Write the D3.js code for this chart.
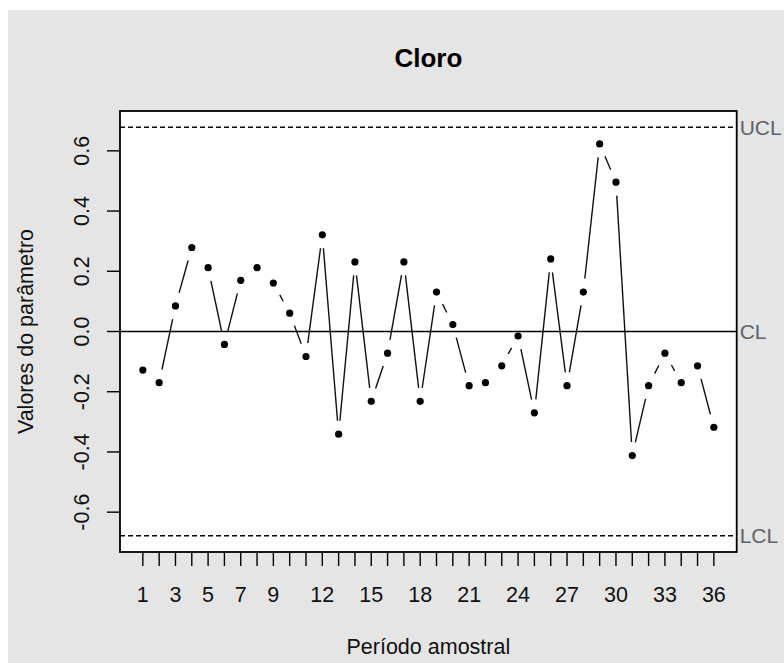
<!DOCTYPE html>
<html>
<head>
<meta charset="utf-8">
<script src="https://cdn.jsdelivr.net/npm/d3@7"></script>
<style>
  body { margin: 0; background: #fff; }
  text { font-family: "Liberation Sans", Arial, sans-serif; }
</style>
</head>
<body>
<div id="chart"></div>
<script>
// valores
var periods = d3.range(1, 37);
var values = [-0.128, -0.170, 0.085, 0.279, 0.212, -0.043, 0.170, 0.212, 0.161, 0.061,
              -0.083, 0.321, -0.341, 0.231, -0.232, -0.072, 0.231, -0.232, 0.131, 0.023,
              -0.180, -0.170, -0.114, -0.015, -0.270, 0.241, -0.180, 0.131, 0.623, 0.496,
              -0.412, -0.180, -0.072, -0.170, -0.114, -0.318];
var limits = [{name: "UCL", v: 0.678, dash: true},
              {name: "CL", v: 0, dash: false},
              {name: "LCL", v: -0.678, dash: true}];
var yTicks = [-0.6, -0.4, -0.2, 0, 0.2, 0.4, 0.6];
var xLabels = [1, 3, 5, 7, 9, 12, 15, 18, 21, 24, 27, 30, 33, 36];

var W = 784, H = 663;
var pLeft = 120, pRight = 736.7, pTop = 111, pBottom = 552;

var svg = d3.select("#chart").append("svg")
    .attr("width", W)
    .attr("height", H);

svg.append("rect")
    .attr("x", 8).attr("y", 10)
    .attr("width", W - 8).attr("height", H - 10)
    .attr("fill", "#e5e5e5");

svg.append("rect")
    .attr("x", pLeft).attr("y", pTop)
    .attr("width", pRight - pLeft).attr("height", pBottom - pTop)
    .attr("fill", "#fff");

var x = d3.scaleLinear().domain([-0.4, 37.4]).range([pLeft, pRight]);
var y = d3.scaleLinear().domain([-0.7323, 0.7323]).range([pBottom, pTop]);

// linhas de controle
limits.forEach(function(l){
    svg.append("line")
        .attr("x1", pLeft).attr("x2", pRight)
        .attr("y1", y(l.v)).attr("y2", y(l.v))
        .attr("stroke", "#000")
        .attr("stroke-width", 1.5)
        .attr("stroke-dasharray", l.dash ? "5,3" : null);
    svg.append("text")
        .attr("x", pRight + 3)
        .attr("y", y(l.v) + 7.5)
        .attr("font-size", 21)
        .attr("fill", "#5f6266")
        .text(l.name);
});

// segmentos com folga em volta dos pontos (type = "b")
var gap = 13.5;
var pts = values.map(function(v, i){ return [x(periods[i]), y(v)]; });
for (var i = 0; i < pts.length - 1; i++) {
    var a = pts[i], b = pts[i + 1];
    var dx = b[0] - a[0], dy = b[1] - a[1];
    var len = Math.sqrt(dx * dx + dy * dy);
    if (len <= 2 * gap) continue;
    var ux = dx / len, uy = dy / len;
    svg.append("line")
        .attr("x1", a[0] + ux * gap).attr("y1", a[1] + uy * gap)
        .attr("x2", b[0] - ux * gap).attr("y2", b[1] - uy * gap)
        .attr("stroke", "#111")
        .attr("stroke-width", 1.4);
}

svg.append("g")
    .selectAll("circle")
    .data(values)
    .enter()
    .append("circle")
      .attr("cx", function(d, i){ return x(periods[i]); })
      .attr("cy", function(d){ return y(d); })
      .attr("r", 3.6)
      .attr("fill", "#000");

// moldura
svg.append("rect")
    .attr("x", pLeft).attr("y", pTop)
    .attr("width", pRight - pLeft).attr("height", pBottom - pTop)
    .attr("fill", "none")
    .attr("stroke", "#000")
    .attr("stroke-width", 1.8);

// eixo x
svg.append("g")
    .selectAll("line")
    .data(periods)
    .enter()
    .append("line")
      .attr("x1", function(d){ return x(d); })
      .attr("x2", function(d){ return x(d); })
      .attr("y1", pBottom)
      .attr("y2", pBottom + 14)
      .attr("stroke", "#000")
      .attr("stroke-width", 1.4);

svg.append("g")
    .selectAll("text")
    .data(xLabels)
    .enter()
    .append("text")
      .attr("x", function(d){ return x(d); })
      .attr("y", 602)
      .attr("text-anchor", "middle")
      .attr("font-size", 21.5)
      .attr("fill", "#111")
      .text(function(d){ return d; });

// eixo y
svg.append("g")
    .selectAll("line")
    .data(yTicks)
    .enter()
    .append("line")
      .attr("x1", pLeft - 13)
      .attr("x2", pLeft)
      .attr("y1", function(d){ return y(d); })
      .attr("y2", function(d){ return y(d); })
      .attr("stroke", "#000")
      .attr("stroke-width", 1.4);

svg.append("g")
    .selectAll("text")
    .data(yTicks)
    .enter()
    .append("text")
      .attr("transform", function(d){ return "translate(89," + y(d) + ") rotate(-90)"; })
      .attr("text-anchor", "middle")
      .attr("font-size", 21.5)
      .attr("fill", "#111")
      .text(function(d){ return d3.format(".1f")(d).replace("−", "-"); });

svg.append("text")
    .attr("x", (pLeft + pRight) / 2)
    .attr("y", 67)
    .attr("text-anchor", "middle")
    .attr("font-size", 26)
    .attr("font-weight", "bold")
    .attr("fill", "#000")
    .text("Cloro");

svg.append("text")
    .attr("x", (pLeft + pRight) / 2)
    .attr("y", 654)
    .attr("text-anchor", "middle")
    .attr("font-size", 21.5)
    .attr("fill", "#111")
    .text("Período amostral");

svg.append("text")
    .attr("transform", "translate(33," + ((pTop + pBottom) / 2) + ") rotate(-90)")
    .attr("text-anchor", "middle")
    .attr("font-size", 21.5)
    .attr("fill", "#111")
    .text("Valores do parâmetro");
</script>
</body>
</html>
